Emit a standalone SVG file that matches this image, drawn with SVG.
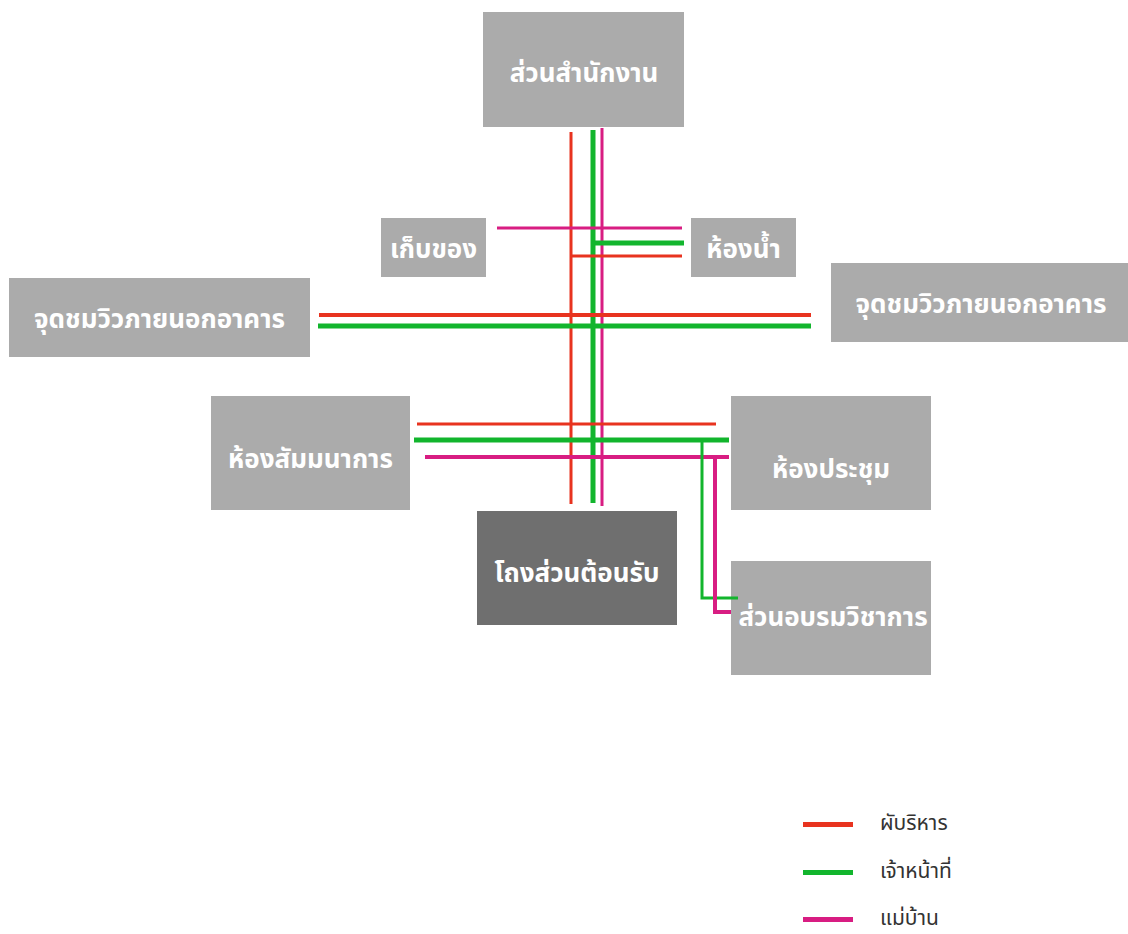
<svg xmlns="http://www.w3.org/2000/svg" width="1128" height="934" viewBox="0 0 1128 934">
<style>
.box{fill:#ababab}
.dark{fill:#6f6f6f}
.lbl{font-family:"Noto Sans","Noto Sans Thai","DejaVu Sans",sans-serif;font-size:26px;font-weight:bold;fill:#ffffff;text-anchor:middle;dominant-baseline:central}
.leg{font-family:"Noto Sans","Noto Sans Thai","DejaVu Sans",sans-serif;font-size:21px;fill:#333333}
.r{stroke:#e8331f;fill:none}
.g{stroke:#12b52d;fill:none}
.p{stroke:#d81d82;fill:none}
</style>
<rect width="1128" height="934" fill="#ffffff"/>
<g id="office"><rect class="box" x="483" y="12" width="201" height="115"/><text class="lbl" x="584" y="72">ส่วนสำนักงาน</text></g>
<g id="storage"><rect class="box" x="381" y="218" width="105" height="59"/><text class="lbl" x="433.5" y="248">เก็บของ</text></g>
<g id="toilet"><rect class="box" x="691" y="218" width="105" height="59"/><text class="lbl" x="743.5" y="248">ห้องน้ำ</text></g>
<g id="view-left"><rect class="box" x="9" y="278" width="301" height="79"/><text class="lbl" x="159.5" y="318">จุดชมวิวภายนอกอาคาร</text></g>
<g id="view-right"><rect class="box" x="831" y="263" width="297" height="79"/><text class="lbl" x="981" y="303">จุดชมวิวภายนอกอาคาร</text></g>
<g id="seminar"><rect class="box" x="211" y="396" width="199" height="114"/><text class="lbl" x="310.5" y="458">ห้องสัมมนาการ</text></g>
<g id="meeting"><rect class="box" x="731" y="396" width="200" height="114"/><text class="lbl" x="831" y="468">ห้องประชุม</text></g>
<g id="lobby"><rect class="dark" x="477" y="511" width="200" height="114"/><text class="lbl" x="577" y="572">โถงส่วนต้อนรับ</text></g>
<g id="training"><rect class="box" x="731" y="561" width="200" height="114"/><text class="lbl" x="833" y="616">ส่วนอบรมวิชาการ</text></g>
<g id="connectors">
<line class="r" x1="571" y1="132" x2="571" y2="504" stroke-width="3"/>
<line class="g" x1="593" y1="130" x2="593" y2="503" stroke-width="5"/>
<line class="p" x1="602" y1="128" x2="602" y2="506" stroke-width="3"/>
<line class="p" x1="497" y1="228" x2="682" y2="228" stroke-width="3"/>
<line class="g" x1="591" y1="243" x2="684" y2="243" stroke-width="5"/>
<line class="r" x1="571" y1="256" x2="682" y2="256" stroke-width="3"/>
<line class="r" x1="319" y1="315" x2="811" y2="315" stroke-width="4"/>
<line class="g" x1="318" y1="326" x2="811" y2="326" stroke-width="5"/>
<line class="r" x1="417" y1="424" x2="716" y2="424" stroke-width="3"/>
<line class="g" x1="414" y1="440" x2="729" y2="440" stroke-width="5"/>
<line class="p" x1="425" y1="457" x2="729" y2="457" stroke-width="4"/>
<polyline class="g" points="702,440 702,598 738,598" stroke-width="3"/>
<polyline class="p" points="715,457 715,612 731,612" stroke-width="4"/>
</g>
<g id="legend">
<rect x="803" y="822" width="50" height="5" fill="#e8331f"/>
<text class="leg" x="880" y="830">ผับริหาร</text>
<rect x="803" y="870" width="50" height="5" fill="#12b52d"/>
<text class="leg" x="880" y="878">เจ้าหน้าที่</text>
<rect x="803" y="917" width="50" height="5" fill="#d81d82"/>
<text class="leg" x="880" y="925">แม่บ้าน</text>
</g>
</svg>
